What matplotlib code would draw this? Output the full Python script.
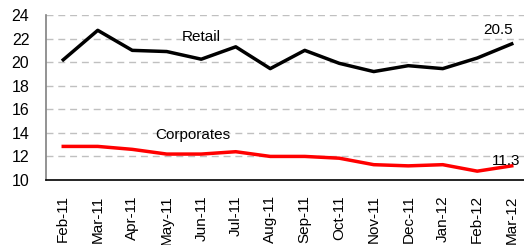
import matplotlib
matplotlib.use("Agg")
import matplotlib.pyplot as plt

months = ["Feb-11", "Mar-11", "Apr-11", "May-11", "Jun-11", "Jul-11", "Aug-11",
          "Sep-11", "Oct-11", "Nov-11", "Dec-11", "Jan-12", "Feb-12", "Mar-12"]
retail = [20.2, 22.7, 21.0, 20.9, 20.25, 21.3, 19.45, 21.0, 19.9, 19.2, 19.7, 19.45, 20.35, 21.55]
corporates = [12.85, 12.85, 12.6, 12.2, 12.2, 12.4, 12.0, 12.0, 11.85, 11.3, 11.2, 11.3, 10.75, 11.2]
yticks = [10, 12, 14, 16, 18, 20, 22, 24]

plt.rcParams['font.family'] = ['Liberation Sans', 'DejaVu Sans']
fig = plt.figure(figsize=(5.24, 2.45), dpi=100)
W, H = 524, 245
left, right, top, bottom = 46, 529, 15, 180
ax = fig.add_axes([left / W, 1 - bottom / H, (right - left) / W, (bottom - top) / H])

fs = 11
x = list(range(len(months)))
ax.plot(x, retail, color="black", lw=2.5)
ax.plot(x, corporates, color="#ff0000", lw=2.5)

ax.set_ylim(10, 24)
ax.set_xlim(-0.5, len(months) - 0.5)
ax.set_yticks(yticks)
ax.set_yticklabels([str(v) for v in yticks], fontsize=11.5)
ax.set_xticks(x)
ax.set_xticklabels(months, rotation=90, fontsize=fs)
ax.tick_params(axis='y', length=0, pad=12)
ax.tick_params(axis='x', length=0, pad=11)

for v in yticks[1:]:
    ax.axhline(v, color="#c0c0c0", lw=1, dashes=(5, 3.5), zorder=0)

for s in ["top", "right"]:
    ax.spines[s].set_visible(False)
ax.spines["left"].set_color("#808080")
ax.spines["left"].set_linewidth(1.2)
ax.spines["bottom"].set_color("black")
ax.spines["bottom"].set_linewidth(1.2)

ax.text(4.0, 22.1, "Retail", fontsize=fs, ha="center", va="center")
ax.text(3.75, 13.8, "Corporates", fontsize=fs, ha="center", va="center")
ax.text(12.6, 22.7, "20.5", fontsize=fs, ha="center", va="center")
ax.text(12.85, 11.6, "11.3", fontsize=fs, ha="center", va="center")

fig.savefig("out.png", dpi=100)
